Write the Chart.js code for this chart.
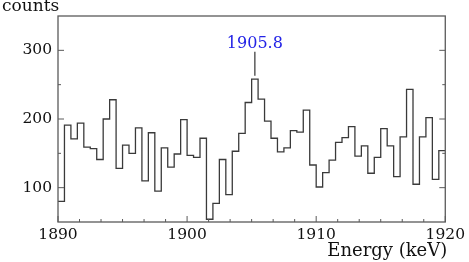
<!DOCTYPE html>
<html>
<head>
<meta charset="utf-8">
<script src="https://cdn.jsdelivr.net/npm/chart.js@4/dist/chart.umd.min.js"></script>
<style>
  body { margin: 0; background: #fff; }
  canvas { display: block; }
</style>
</head>
<body>
<canvas id="canvas" width="469" height="262"></canvas>
<script>
// histogram, 0.5 keV bins from 1890 to 1920 keV
var binStart = 1890;
var binWidth = 0.5;
var counts = [
  80, 191, 171, 194, 159, 157, 141, 200, 228, 128,
  162, 150, 187, 110, 180, 95, 158, 130, 149, 199,
  147, 144, 172, 54, 77, 141, 90, 153, 179, 224,
  258, 229, 197, 172, 152, 158, 183, 181, 213, 133,
  101, 122, 140, 166, 173, 189, 146, 161, 121, 144,
  186, 161, 116, 174, 243, 105, 174, 202, 112, 154
];
var xTicks = [1890, 1900, 1910, 1920];
var yTicks = [100, 200, 300];
var yMinorTicks = [150, 250];
var xMinorStep = 10 / 6;
var peakLabel = '1905.8';
var peakX = 1905.25;
var peakLine = [263, 298];

var points = counts.map(function(c, i) {
  return {x: binStart + i * binWidth, y: c};
});
points.push({x: binStart + counts.length * binWidth, y: counts[counts.length - 1]});

var serif = '"DejaVu Serif", serif';

var decor = {
  id: 'decor',
  beforeDraw: function(chart) {
    var ctx = chart.ctx;
    ctx.save();
    ctx.fillStyle = '#fff';
    ctx.fillRect(0, 0, chart.width, chart.height);
    ctx.restore();
  },
  afterDraw: function(chart) {
    var ctx = chart.ctx;
    var a = chart.chartArea;
    var xs = chart.scales.x, ys = chart.scales.y;
    ctx.save();
    // frame
    ctx.strokeStyle = '#5a5a5a';
    ctx.lineWidth = 1.3;
    ctx.strokeRect(a.left, a.top, a.right - a.left, a.bottom - a.top);
    // y ticks both sides
    ctx.lineWidth = 1;
    ctx.beginPath();
    yTicks.concat(yMinorTicks).forEach(function(v) {
      var len = yTicks.indexOf(v) >= 0 ? 6 : 3;
      var y = ys.getPixelForValue(v);
      ctx.moveTo(a.left, y); ctx.lineTo(a.left + len, y);
      ctx.moveTo(a.right, y); ctx.lineTo(a.right - len, y);
    });
    // x ticks bottom
    for (var v = xs.min; v <= xs.max + 0.001; v += xMinorStep) {
      var major = Math.abs(v - Math.round(v / 10) * 10) < 0.01;
      var x = xs.getPixelForValue(v);
      ctx.moveTo(x, a.bottom); ctx.lineTo(x, a.bottom - (major ? 6 : 3));
    }
    ctx.stroke();
    // axis titles
    ctx.fillStyle = '#111';
    ctx.font = '17px ' + serif;
    ctx.textAlign = 'left';
    ctx.textBaseline = 'alphabetic';
    ctx.fillText('counts', 2, 11);
    ctx.font = '18px ' + serif;
    ctx.textAlign = 'right';
    ctx.fillText('Energy (keV)', a.right + 2, 256);
    // peak annotation
    var px = xs.getPixelForValue(peakX);
    ctx.strokeStyle = '#333';
    ctx.lineWidth = 1.2;
    ctx.beginPath();
    ctx.moveTo(px, ys.getPixelForValue(peakLine[0]));
    ctx.lineTo(px, ys.getPixelForValue(peakLine[1]));
    ctx.stroke();
    ctx.fillStyle = '#2323e6';
    ctx.font = '16px ' + serif;
    ctx.textAlign = 'center';
    ctx.fillText(peakLabel, px, ys.getPixelForValue(peakLine[1]) - 4);
    ctx.restore();
  }
};

var ctx = document.getElementById('canvas').getContext('2d');
var myChart = new Chart(ctx, {
  type: 'line',
  data: {
    datasets: [{
      data: points,
      stepped: 'before',
      borderColor: '#3a3a3a',
      borderWidth: 1.3,
      pointRadius: 0,
      fill: false,
      tension: 0
    }]
  },
  options: {
    responsive: false,
    animation: false,
    events: [],
    layout: {padding: {top: 16, right: 22, left: 0, bottom: 0}},
    plugins: {legend: {display: false}, tooltip: {enabled: false}},
    scales: {
      x: {
        type: 'linear',
        min: 1890,
        max: 1920,
        grid: {display: false, drawTicks: false},
        border: {display: false},
        afterBuildTicks: function(scale) {
          scale.ticks = xTicks.map(function(v) { return {value: v}; });
        },
        afterFit: function(scale) { scale.height = 40; },
        ticks: {
          maxRotation: 0,
          padding: 4,
          color: '#111',
          font: {family: serif, size: 15.5},
          callback: function(v) { return String(v); }
        }
      },
      y: {
        min: 50,
        max: 350,
        grid: {display: false, drawTicks: false},
        border: {display: false},
        afterBuildTicks: function(scale) {
          scale.ticks = yTicks.map(function(v) { return {value: v}; });
        },
        afterFit: function(scale) { scale.width = 58; },
        ticks: {
          padding: 6,
          color: '#111',
          font: {family: serif, size: 15.5},
          callback: function(v) { return String(v); }
        }
      }
    }
  },
  plugins: [decor]
});
</script>
</body>
</html>
